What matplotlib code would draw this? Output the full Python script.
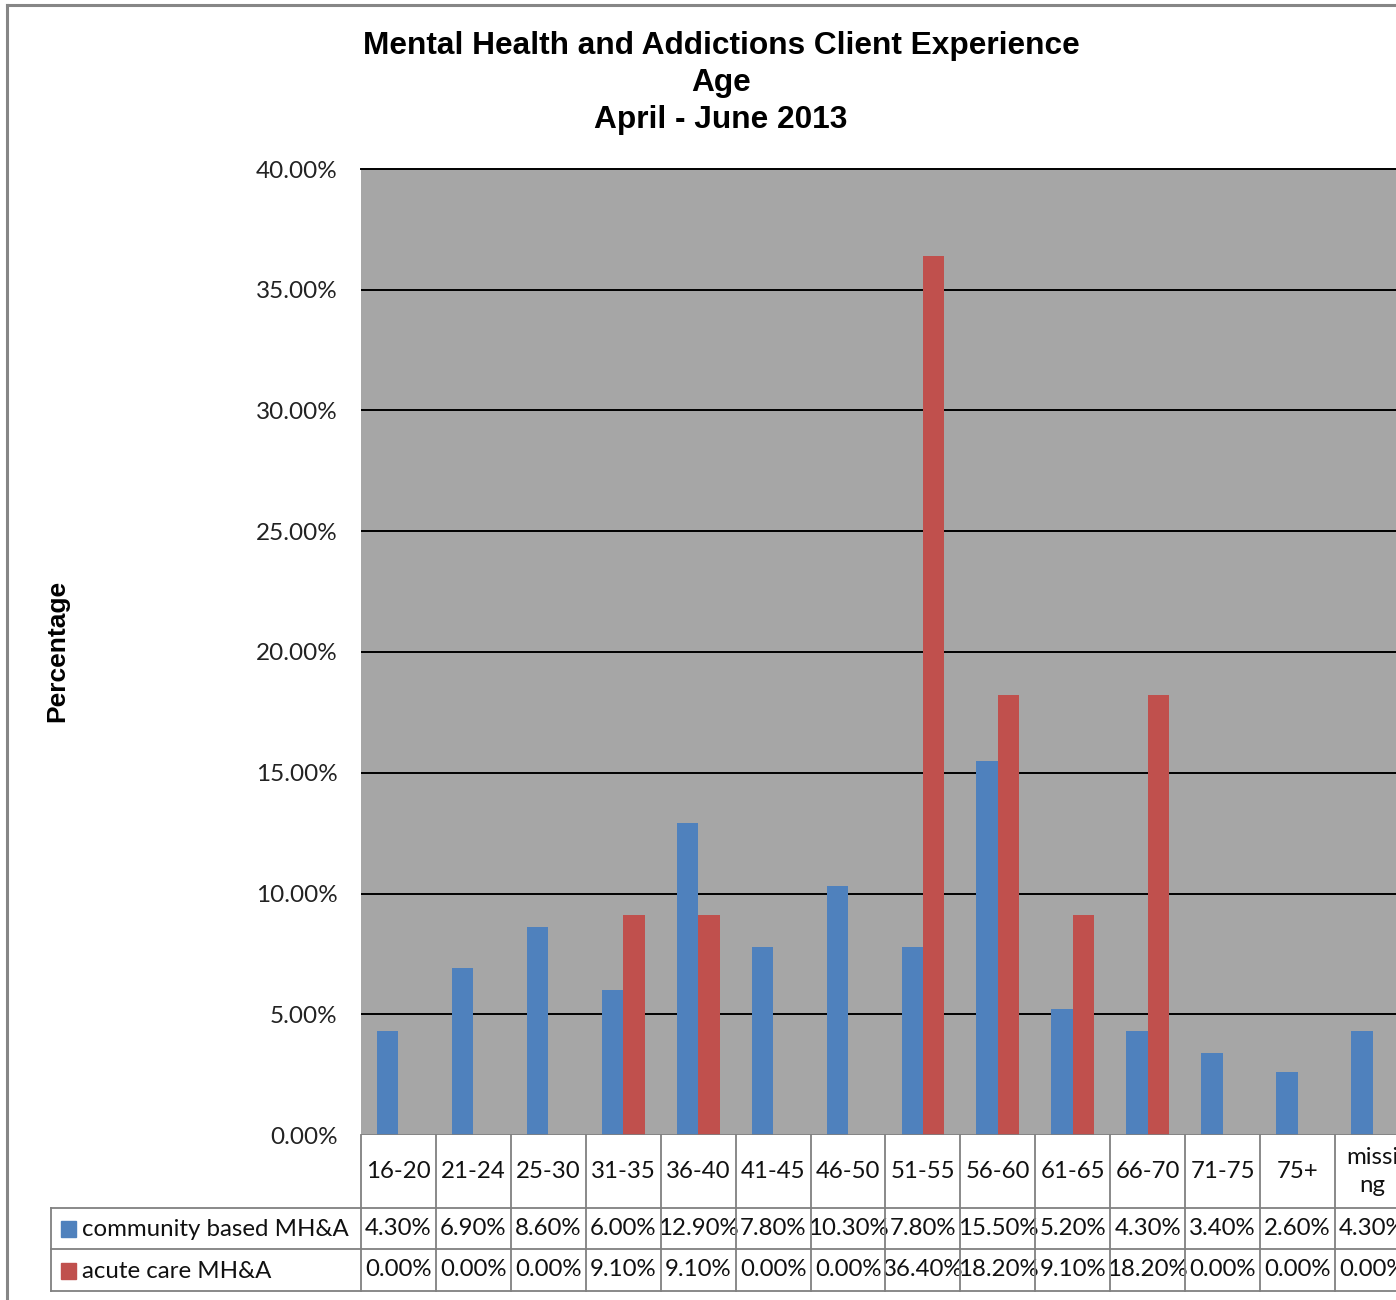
import matplotlib
matplotlib.use("Agg")
import matplotlib.pyplot as plt
from matplotlib.patches import Rectangle
from matplotlib.lines import Line2D
import matplotlib.transforms as mtransforms

# ---- data -------------------------------------------------------------
age_groups = ["16-20", "21-24", "25-30", "31-35", "36-40", "41-45", "46-50",
              "51-55", "56-60", "61-65", "66-70", "71-75", "75+", "missi\nng"]
community = [4.30, 6.90, 8.60, 6.00, 12.90, 7.80, 10.30,
             7.80, 15.50, 5.20, 4.30, 3.40, 2.60, 4.30]
acute = [0.00, 0.00, 0.00, 9.10, 9.10, 0.00, 0.00,
         36.40, 18.20, 9.10, 18.20, 0.00, 0.00, 0.00]
series_names = ["community based MH&A", "acute care MH&A"]
y_ticks = [0, 5, 10, 15, 20, 25, 30, 35, 40]

BLUE = "#4F81BD"
RED = "#C0504D"
PLOT_BG = "#A6A6A6"
GRID_GREY = "#808080"

W, H = 1396, 1300
fig = plt.figure(figsize=(W / 100, H / 100), dpi=100)

# plot area in pixel terms (extends past the right edge of the canvas)
px_left, px_right, px_top, px_bottom = 361, 1410, 169, 1135
ax = fig.add_axes([px_left / W, 1 - px_bottom / H,
                   (px_right - px_left) / W, (px_bottom - px_top) / H])
ax.set_facecolor(PLOT_BG)

n = len(age_groups)
bw = 1 / 3.5
xs = list(range(n))
ax.bar([x - bw / 2 for x in xs], community, width=bw, color=BLUE, zorder=3)
ax.bar([x + bw / 2 for x in xs], acute, width=bw, color=RED, zorder=3)

ax.set_xlim(-0.5, n - 0.5)
ax.set_ylim(0, 40)
ax.set_yticks(y_ticks)
ax.set_yticklabels([f"{v:.2f}%" for v in y_ticks], fontfamily="Lato",
                   fontsize=17.5, color="#222222")
ax.tick_params(axis="y", length=0, pad=17)
ax.set_xticks([])
for yv in y_ticks[1:-1]:
    ax.axhline(yv, color="black", lw=1.4, zorder=2)
for side in ["right", "bottom", "left"]:
    ax.spines[side].set_visible(False)
ax.spines["top"].set_color("black")
ax.spines["top"].set_linewidth(1.4)
ax.axhline(0, color=GRID_GREY, lw=1.2, zorder=4)

# ---- data table underneath the plot -----------------------------------
tr = mtransforms.blended_transform_factory(ax.transData, ax.transAxes)
ph = px_bottom - px_top


def yfrac(py):
    return (px_bottom - py) / ph


row_y = [1135, 1208, 1249, 1291]
ry = [yfrac(v) for v in row_y]
legend_left = (51 - px_left) / ((px_right - px_left) / n) - 0.5

line_kw = dict(color=GRID_GREY, lw=1.3, transform=tr, clip_on=False)
# vertical borders between age columns
for i in range(n + 1):
    x = i - 0.5
    fig.add_artist(Line2D([x, x], [ry[0], ry[3]], **line_kw))
# horizontal borders
for yy in ry[1:]:
    fig.add_artist(Line2D([legend_left, n - 0.5], [yy, yy], **line_kw))
fig.add_artist(Line2D([legend_left, legend_left], [ry[1], ry[3]], **line_kw))

cell_font = dict(fontfamily="Lato", fontsize=17.3, color="#111111",
                 transform=tr, clip_on=False)
for i, lab in enumerate(age_groups):
    ax.text(i, (ry[0] + ry[1]) / 2, lab, ha="center", va="center",
            linespacing=1.45, **cell_font)
for i in range(n):
    ax.text(i, (ry[1] + ry[2]) / 2, f"{community[i]:.2f}%",
            ha="center", va="center", **cell_font)
    ax.text(i, (ry[2] + ry[3]) / 2, f"{acute[i]:.2f}%",
            ha="center", va="center", **cell_font)

# series keys in the table's first column
for k, (name, col) in enumerate(zip(series_names, [BLUE, RED])):
    cy = 1229 + k * 42
    fig.add_artist(Rectangle((61 / W, 1 - (cy + 8) / H), 15 / W, 16 / H,
                             color=col, transform=fig.transFigure))
    fig.text(82 / W, 1 - cy / H, name, ha="left", va="center",
             fontfamily="Lato", fontsize=17.3, color="#111111")

# ---- titles and outer frame -------------------------------------------
title_lines = ["Mental Health and Addictions Client Experience", "Age",
               "April - June 2013"]
for k, t in enumerate(title_lines):
    fig.text(721 / W, 1 - (46 + 37 * k) / H, t, ha="center", va="center",
             fontfamily="Liberation Sans", fontweight="bold", fontsize=22.8)

fig.text(57 / W, 1 - 651 / H, "Percentage", rotation=90, ha="center",
         va="center", fontfamily="Liberation Sans", fontweight="bold",
         fontsize=19)

fig.add_artist(Line2D([7 / W, 7 / W], [0, 1 - 5 / H], color="#868686",
                      lw=2.2, transform=fig.transFigure))
fig.add_artist(Line2D([7 / W, 1], [1 - 5 / H, 1 - 5 / H], color="#868686",
                      lw=2.2, transform=fig.transFigure))

fig.savefig("out.png", dpi=100)
